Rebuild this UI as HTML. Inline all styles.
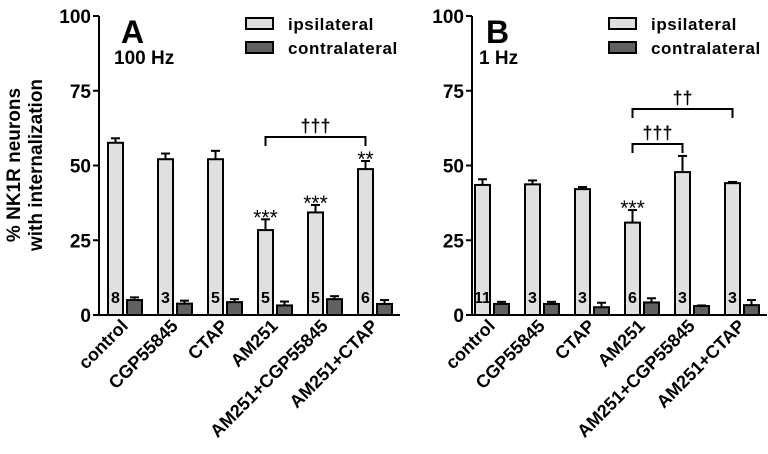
<!DOCTYPE html>
<html><head><meta charset="utf-8">
<style>
html,body{margin:0;padding:0;background:#fff;}
svg{display:block;font-family:"Liberation Sans",Arial,sans-serif;font-weight:bold;}
</style></head>
<body>
<svg id="chart" width="768" height="454" viewBox="0 0 768 454" xmlns="http://www.w3.org/2000/svg">
<g>
<text transform="translate(20,165) rotate(-90)" text-anchor="middle" font-size="19">% NK1R neurons</text>
<text transform="translate(42,165) rotate(-90)" text-anchor="middle" font-size="19">with internalization</text>
</g>
</svg>
<script>
const categories = ["control","CGP55845","CTAP","AM251","AM251+CGP55845","AM251+CTAP"];
const yTicks = [0,25,50,75,100];
const ipsiA = [57.6,52.1,52.1,28.4,34.3,48.8];
const ipsiErrA = [1.5,1.9,2.8,3.6,2.5,2.7];
const contraA = [5.0,3.8,4.3,3.2,5.3,3.7];
const contraErrA = [0.9,1.0,1.0,1.3,1.0,1.3];
const nA = ["8","3","5","5","5","6"];
const starsA = ["","","","***","***","**"];
const ipsiB = [43.5,43.7,42.1,30.9,47.8,44.1];
const ipsiErrB = [1.9,1.3,0.7,4.2,5.4,0.4];
const contraB = [3.7,3.7,2.6,4.2,3.0,3.3];
const contraErrB = [0.7,0.7,1.5,1.4,0.2,1.7];
const nB = ["11","3","3","6","3","3"];
const starsB = ["","","","***","",""];

const svg = document.getElementById('chart');
const NS = "http://www.w3.org/2000/svg";
function mk(tag, attrs, parent){
  const e = document.createElementNS(NS, tag);
  for (const k in attrs) e.setAttribute(k, attrs[k]);
  (parent||svg).appendChild(e);
  return e;
}
const y0 = 315, yScale = 2.99;
function yPos(v){ return y0 - v*yScale; }

function panel(p){
  const g = mk('g', {});
  
  
  const ax = p.axisX;
  function xIpsi(i){ return p.firstBar + i*50; }
  const yl = mk('line', {x1:ax, y1:yPos(100), x2:ax, y2:y0+1, stroke:'#000','stroke-width':2}, g);
  
  
  const xl = mk('line', {x1:ax-6, y1:y0, x2:p.axisEnd, y2:y0, stroke:'#000','stroke-width':2}, g);
  
  
  yTicks.forEach(t=>{
    const tk = mk('line', {x1:ax-6, y1:yPos(t), x2:ax, y2:yPos(t), stroke:'#000','stroke-width':2}, g);
    
    
    const tl = mk('text', {x:ax-8, y:yPos(t)+7, 'text-anchor':'end','font-size':19}, g);
    tl.textContent = t;
    
    
  });
  categories.forEach((c,i)=>{
    const xi = xIpsi(i);
    const top = yPos(p.ipsi[i]);
    const eb = mk('line', {x1:xi+7.5, y1:yPos(p.ipsi[i]+p.ipsiErr[i]), x2:xi+7.5, y2:top, stroke:'#000','stroke-width':2}, g);
    
    
    const ec = mk('line', {x1:xi+3, y1:yPos(p.ipsi[i]+p.ipsiErr[i]), x2:xi+12, y2:yPos(p.ipsi[i]+p.ipsiErr[i]), stroke:'#000','stroke-width':2}, g);
    
    
    const b = mk('rect', {x:xi, y:top, width:15, height:y0-top, fill:'#e0e0e0', stroke:'#000','stroke-width':2}, g);
    
    
    const xc = xi+19;
    const ctop = yPos(p.contra[i]);
    const eb2 = mk('line', {x1:xc+7.5, y1:yPos(p.contra[i]+p.contraErr[i]), x2:xc+7.5, y2:ctop, stroke:'#000','stroke-width':2}, g);
    
    
    const ec2 = mk('line', {x1:xc+3, y1:yPos(p.contra[i]+p.contraErr[i]), x2:xc+12, y2:yPos(p.contra[i]+p.contraErr[i]), stroke:'#000','stroke-width':2}, g);
    
    
    const b2 = mk('rect', {x:xc, y:ctop, width:15, height:y0-ctop, fill:'#606060', stroke:'#000','stroke-width':2}, g);
    
    
    const nl = mk('text', {x:xi+7.5, y:303, 'text-anchor':'middle','font-size':16}, g);
    nl.textContent = p.n[i];
    
    
    if (p.stars[i]) {
      const s = mk('text', {x:xi+7.5, y:yPos(p.ipsi[i]+p.ipsiErr[i])+5, 'text-anchor':'middle','font-size':21,'font-weight':'normal'}, g);
      s.textContent = p.stars[i];
      
      
    }
    const lx = xi+21, ly = 327;
    const xlb = mk('text', {transform:'translate('+lx+','+ly+') rotate(-45)', 'text-anchor':'end','font-size':18}, g);
    xlb.textContent = c;
    
    
  });
  p.brackets.forEach(br=>{
    const x1 = xIpsi(br.from)+7.5, x2 = xIpsi(br.to)+7.5;
    const path = mk('path', {d:'M'+x1+','+(br.y+9)+' V'+br.y+' H'+x2+' V'+(br.y+9), fill:'none', stroke:'#000','stroke-width':2}, g);
    
    
    const t = mk('text', {x:(x1+x2)/2, y:br.y-5, 'text-anchor':'middle','font-size':18}, g);
    t.textContent = br.label;
    
    
  });
  const L = mk('text', {x:p.letterX, y:43, 'font-size':32}, g);
  L.textContent = p.id;
  
  
  const f = mk('text', {x:p.letterX-7, y:64, 'font-size':19}, g);
  f.textContent = p.freq;
  
  
  const lg = mk('g', {}, g);
  
  
  [['ipsilateral','#e0e0e0',18],['contralateral','#606060',42]].forEach(e=>{
    const r = mk('rect', {x:p.legX, y:e[2], width:27, height:11, fill:e[1], stroke:'#000','stroke-width':2}, lg);
    
    
    const t = mk('text', {x:p.legX+42, y:e[2]+12, 'font-size':17, 'letter-spacing':'0.6'}, lg);
    t.textContent = e[0];
    
    
  });
}
panel({id:'A', axisX:99, axisEnd:400, firstBar:108, ipsi:ipsiA, ipsiErr:ipsiErrA, contra:contraA, contraErr:contraErrA, n:nA, stars:starsA,
  brackets:[{from:3,to:5,y:137,label:'†††'}], letterX:121, freq:'100 Hz', legX:246});
panel({id:'B', axisX:472, axisEnd:767, firstBar:475, ipsi:ipsiB, ipsiErr:ipsiErrB, contra:contraB, contraErr:contraErrB, n:nB, stars:starsB,
  brackets:[{from:3,to:5,y:109,label:'††'},{from:3,to:4,y:144,label:'†††'}], letterX:486, freq:'1 Hz', legX:609});
</script>
</body></html>
